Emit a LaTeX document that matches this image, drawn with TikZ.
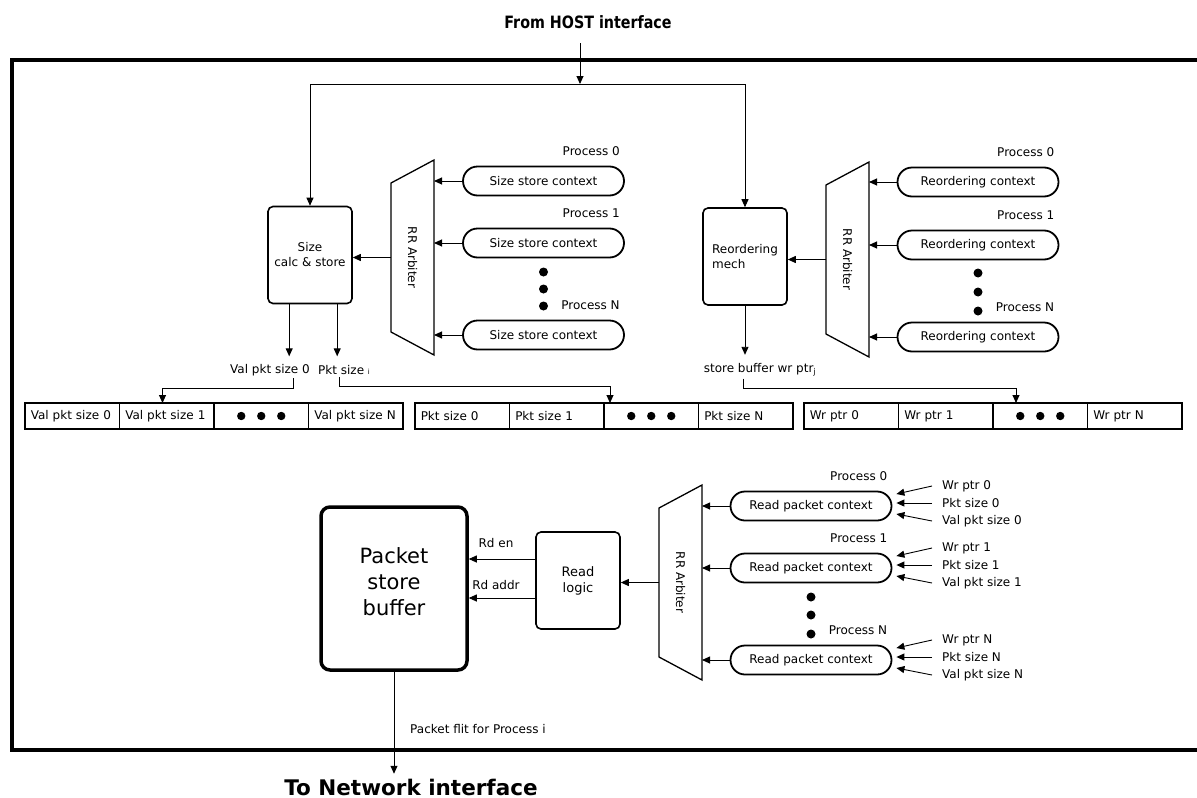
\documentclass[tikz,border=0pt]{standalone}
\usepackage{fontspec}
\usepackage{graphicx}
\setmainfont{DejaVu Sans}
\usetikzlibrary{arrows.meta,calc}

\def\arbshape#1{\draw[line width=1.3pt] ($(#1.north west)+(0,23)$) -- (#1.north east) -- (#1.south east) -- ($(#1.south west)+(0,-23)$) -- cycle}
\def\arblabel#1{\node[lbl, rotate=-90] at (#1) {RR Arbiter}}

\tikzset{
  wire/.style={-{Triangle[length=8pt,width=7pt]}, line width=0.9pt},
  lbl/.style={font=\fontsize{12}{14}\selectfont, inner sep=2pt},
  inlbl/.style={lbl, anchor=west, inner xsep=10pt},
  blk/.style={draw, line width=1.6pt, rounded corners=5pt, minimum width=84pt, minimum height=97pt, align=center, font=\fontsize{12}{15}\selectfont},
  ctx/.style={draw, line width=1.8pt, rounded corners=14.5pt, minimum width=161pt, minimum height=29pt, font=\fontsize{12}{14}\selectfont},
  cell/.style={draw, line width=1.3pt, outer sep=0pt, minimum height=26pt, text width=83pt, inner xsep=5.75pt, align=left, font=\fontsize{12}{14}\selectfont},
  arb/.style={minimum width=43pt, minimum height=195pt, outer sep=0pt, inner sep=0pt},
}

\begin{document}
\begin{tikzpicture}[x=1pt,y=-1pt]
\useasboundingbox (0,0) rectangle (1197,798);

\draw[line width=3.5pt] (1205,60) -- (12,60) -- (12,750) -- (1205,750);

\node[font=\bfseries\fontsize{17}{20}\selectfont] (host) at (588,22) {\scalebox{0.84}[1]{From HOST interface}};
\node[font=\bfseries\fontsize{21.5}{24}\selectfont, anchor=base, inner sep=0pt] (net) at (411,795) {To Network interface};
\coordinate (hostin) at (580,43);
\coordinate (split) at (580,84);

\node[blk] (szcalc) at (310,255) {Size\\calc \& store};
\node[blk, align=left] (reord) at (745,256.5) {Reordering\\mech};
\node[blk, font=\fontsize{13}{16}\selectfont] (rdlog) at (578,580.5) {Read\\logic};
\node[blk, line width=3.5pt, rounded corners=9pt, minimum width=146pt, minimum height=163pt] (psb) at (394,588.5) {};
\node[align=center, font=\fontsize{21}{26}\selectfont] (psbtxt) at ($(psb.center)+(0,-7)$) {Packet\\store\\buffer};

\node[arb] (arbA) at (412.5,257.5) {}; \arbshape{arbA}; \arblabel{arbA};
\node[arb] (arbB) at (847.5,259.5) {}; \arbshape{arbB}; \arblabel{arbB};
\node[arb] (arbC) at (680.5,582.5) {}; \arbshape{arbC}; \arblabel{arbC};

\foreach \i/\y/\p in {0/181/0, 1/243/1, 2/335/N} {
  \node[ctx] (ssc\i) at (543.5,\y) {Size store context};
  \node[lbl, anchor=base east] at ($(ssc\i.north east)+(-3,-10)$) {Process \p};
  \draw[wire] (ssc\i.west) -- (ssc\i.west -| arbA.east);
}
\foreach \y in {272,289,306} \fill (543.5,\y) circle (4.5pt);

\foreach \i/\y/\p in {0/182/0, 1/245/1, 2/337/N} {
  \node[ctx] (roc\i) at (978,\y) {Reordering context};
  \node[lbl, anchor=base east] at ($(roc\i.north east)+(-3,-10)$) {Process \p};
  \draw[wire] (roc\i.west) -- (roc\i.west -| arbB.east);
}
\foreach \y in {273,292,311} \fill (978,\y) circle (4.5pt);

\foreach \i/\y/\p in {0/506/0, 1/568/1, 2/660/N} {
  \node[ctx] (rpc\i) at (811,\y) {Read packet context};
  \node[lbl, anchor=base east] at ($(rpc\i.north east)+(-3,-10)$) {Process \p};
  \draw[wire] (rpc\i.west) -- (rpc\i.west -| arbC.east);
  \node[inlbl] (inw\i) at (932,\y-20) {Wr ptr \p};
  \node[inlbl] (inp\i) at (932,\y-3) {Pkt size \p};
  \node[inlbl] (inv\i) at (932,\y+15) {Val pkt size \p};
  \coordinate (rpe\i) at ($(rpc\i.east)+(4,0)$);
  \draw[wire] (inw\i.west) -- ($(rpe\i)+(0,-12)$);
  \draw[wire] (inp\i.west) -- (inp\i.west -| rpe\i);
  \draw[wire] (inv\i.west) -- ($(rpe\i)+(0,8)$);
}
\foreach \y in {597,615,634} \fill (811,\y) circle (4.5pt);

\foreach \nm/\x/\lab in {vps/25/Val pkt size, ps/415/Pkt size, wp/804/Wr ptr} {
  \node[cell, anchor=west] (\nm0) at (\x,416) {\lab\ 0};
  \node[cell, anchor=west] (\nm1) at (\nm0.east) {\lab\ 1};
  \node[cell, anchor=west] (\nm2) at (\nm1.east) {};
  \node[cell, anchor=west] (\nm3) at (\nm2.east) {\lab\ N};
  \foreach \d in {-20,0,20} \fill ($(\nm2.center)+(\d,0)$) circle (4.2pt);
}

\node[lbl] (vpsout) at (270,370) {Val pkt size 0};
\node[lbl, anchor=west] (psout) at (316,370) {Pkt size {\fontsize{7}{8}\selectfont i}};
\node[lbl] (wpout) at (760,370) {store buffer wr ptr\textsubscript{j}};

\draw[wire] (hostin) -- (split);
\draw[wire] (split) -| (szcalc.north);
\draw[wire] (split) -| (reord.north);
\draw[wire] (arbA.west) -- (arbA.west -| szcalc.east);
\draw[wire] (arbB.west) -- (arbB.west -| reord.east);
\draw[wire] (arbC.west) -- (arbC.west -| rdlog.east);

\draw[wire] ([xshift=22pt]szcalc.south west) -- ++(0,52);
\draw[wire] ([xshift=70pt]szcalc.south west) -- ++(0,52);
\draw[wire] (reord.south) -- ++(0,49);
\draw[wire] ([xshift=23pt]vpsout.south) -- ++(0,10) -| ([xshift=43pt]vps1.north west);
\draw[wire] ([xshift=23pt]psout.south west) -- ++(0,10) -| ([xshift=6pt]ps2.north west);
\draw[wire] ([xshift=-17pt]wpout.south) -- ++(0,10) -| ([xshift=23pt]wp2.north west);

\coordinate (rden) at ([yshift=21.5pt]rdlog.west);
\coordinate (rdaddr) at ([yshift=-17.5pt]rdlog.west);
\draw[wire] (rden) -- node[lbl, above=9pt, pos=0.59] {Rd en} (rden -| psb.east);
\draw[wire] (rdaddr) -- node[lbl, above=6pt, pos=0.59] {Rd addr} (rdaddr -| psb.east);

\draw[wire] (psb.south) -- ++(0,102);
\node[lbl, anchor=west] (flit) at (408,729) {Packet flit for Process i};
\end{tikzpicture}
\end{document}
